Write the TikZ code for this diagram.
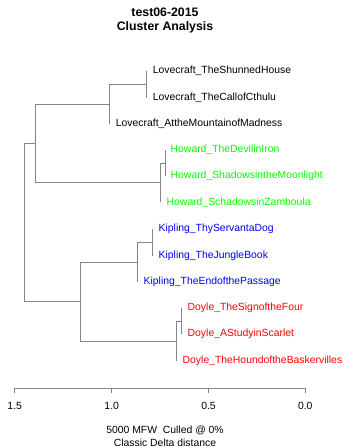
\documentclass[tikz,border=0pt]{standalone}
\usepackage{fontspec}
\setmainfont{Liberation Sans}
\definecolor{rgreen}{HTML}{00FF00}
\definecolor{rblue}{HTML}{0000FF}
\definecolor{rred}{HTML}{FF0000}
\definecolor{edgegray}{HTML}{858585}
\begin{document}
\begin{tikzpicture}[x=1pt,y=-1pt,
  edge/.style={draw=edgegray,line width=0.8pt},
  leaf/.style={anchor=west,inner sep=0pt,font=\fontsize{10.4}{12}\selectfont},
  lab/.style={inner sep=0pt,font=\fontsize{10.4}{12}\selectfont},
  ttl/.style={inner sep=0pt,font=\fontsize{12.3}{14}\selectfont\bfseries}]
\useasboundingbox (0,0) rectangle (346,447);
% title
\node[ttl] (title1) at (165,12.5) {test06-2015};
\node[ttl] (title2) at (165,27.7) {Cluster Analysis};
% leaf points
\coordinate (l1) at (146.7,71);
\coordinate (l2) at (146.7,98);
\coordinate (l3) at (109.7,124);
\coordinate (h1) at (165,150);
\coordinate (h2) at (165,176);
\coordinate (h3) at (160.7,202.3);
\coordinate (k1) at (152.7,229.3);
\coordinate (k2) at (152.7,256);
\coordinate (k3) at (137.7,281.7);
\coordinate (d1) at (181.7,308.3);
\coordinate (d2) at (181.7,334.3);
\coordinate (d3) at (176.3,361);
% internal nodes
\coordinate (nl1) at (146.7,84.5);
\coordinate (nl2) at (109.7,104.25);
\coordinate (nh1) at (165,163);
\coordinate (nh2) at (160.7,182.7);
\coordinate (nlh) at (35.7,143.5);
\coordinate (nk1) at (152.7,242.7);
\coordinate (nk2) at (137.7,262.2);
\coordinate (nd1) at (181.7,321.3);
\coordinate (nd2) at (176.3,341.2);
\coordinate (nkd) at (80.7,301.7);
\coordinate (root) at (24,222.6);
% labels
\node[leaf] (tl1) at (152.7,71) {Lovecraft\_TheShunnedHouse};
\node[leaf] (tl2) at (152.7,98) {Lovecraft\_TheCallofCthulu};
\node[leaf] (tl3) at (115.7,124) {Lovecraft\_AttheMountainofMadness};
\node[leaf,text=rgreen] (th1) at (170.5,150) {Howard\_TheDevilinIron};
\node[leaf,text=rgreen] (th2) at (170.5,176) {Howard\_ShadowsintheMoonlight};
\node[leaf,text=rgreen] (th3) at (166.5,202.3) {Howard\_SchadowsinZamboula};
\node[leaf,text=rblue] (tk1) at (158.5,229.3) {Kipling\_ThyServantaDog};
\node[leaf,text=rblue] (tk2) at (158.5,256) {Kipling\_TheJungleBook};
\node[leaf,text=rblue] (tk3) at (143.5,281.7) {Kipling\_TheEndofthePassage};
\node[leaf,text=rred] (td1) at (187.5,308.3) {Doyle\_TheSignoftheFour};
\node[leaf,text=rred] (td2) at (187.5,334.3) {Doyle\_AStudyinScarlet};
\node[leaf,text=rred] (td3) at (182.5,361) {Doyle\_TheHoundoftheBaskervilles};
% edges
\draw[edge] (l1) -| (nl1);
\draw[edge] (l2) -| (nl1);
\draw[edge] (nl1) -| (nl2);
\draw[edge] (l3) -| (nl2);
\draw[edge] (h1) -| (nh1);
\draw[edge] (h2) -| (nh1);
\draw[edge] (nh1) -| (nh2);
\draw[edge] (h3) -| (nh2);
\draw[edge] (nl2) -| (nlh);
\draw[edge] (nh2) -| (nlh);
\draw[edge] (k1) -| (nk1);
\draw[edge] (k2) -| (nk1);
\draw[edge] (nk1) -| (nk2);
\draw[edge] (k3) -| (nk2);
\draw[edge] (d1) -| (nd1);
\draw[edge] (d2) -| (nd1);
\draw[edge] (nd1) -| (nd2);
\draw[edge] (d3) -| (nd2);
\draw[edge] (nk2) -| (nkd);
\draw[edge] (nd2) -| (nkd);
\draw[edge] (nlh) -| (root);
\draw[edge] (nkd) -| (root);
% axis
\coordinate (a0) at (14.7,388);
\coordinate (a1) at (305.3,388);
\draw[edge] (a0) -- (a1);
\foreach \v/\xx in {1.5/14.7,1.0/111.7,0.5/208.5,0.0/305.3}{
  \draw[edge] (\xx,388) -- (\xx,393);
  \node[lab] at (\xx,406) {\v};
}
\node[lab] (xl1) at (165,430) {5000 MFW\ \ Culled @ 0\%};
\node[lab] (xl2) at (165,442.5) {Classic Delta distance};
\end{tikzpicture}
\end{document}
